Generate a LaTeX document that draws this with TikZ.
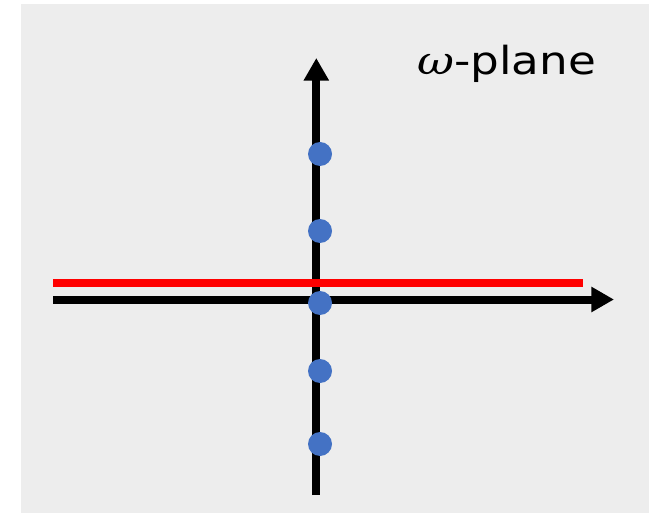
\documentclass[tikz,border=0pt]{standalone}
\usepackage{fontspec}
\setmainfont{DejaVu Sans}
\newfontfamily\omfont{DejaVu Serif}
\usetikzlibrary{arrows.meta}
\definecolor{bggray}{HTML}{EDEDED}
\definecolor{dotblue}{HTML}{4472C4}
\definecolor{redline}{HTML}{FF0000}
\begin{document}
\begin{tikzpicture}[x=0.75pt,y=-0.75pt,
  axis/.style={line width=6pt,draw=black,-{Triangle[length=17pt,width=18pt]}},
  redl/.style={line width=6pt,draw=redline},
  pole/.style={circle,fill=dotblue,draw=none,inner sep=0pt,minimum size=18pt},
  lbl/.style={inner sep=0pt,anchor=base west,font=\fontsize{29}{35}\selectfont}]
\useasboundingbox (0,0) rectangle (649,513);
\fill[bggray] (21,4) rectangle (649,513);
% axes
\coordinate (xl) at (53,299.5);
\coordinate (xr) at (614,299.5);
\coordinate (yb) at (316.3,495);
\coordinate (yt) at (316.3,58);
\draw[axis] (yb) -- (yt);
\draw[axis] (xl) -- (xr);
% red line
\coordinate (rl) at (53,283);
\coordinate (rr) at (582.5,283);
\draw[redl] (rl) -- (rr);
% poles
\node[pole] (p1) at (320,154) {};
\node[pole] (p2) at (320,231) {};
\node[pole] (p3) at (320,303) {};
\node[pole] (p4) at (320,371) {};
\node[pole] (p5) at (320,444) {};
% label
\node[lbl] (lab) at (417,75) {\scalebox{1.17}[1]{{\omfont\itshape ω}-plane}};
\end{tikzpicture}
\end{document}
